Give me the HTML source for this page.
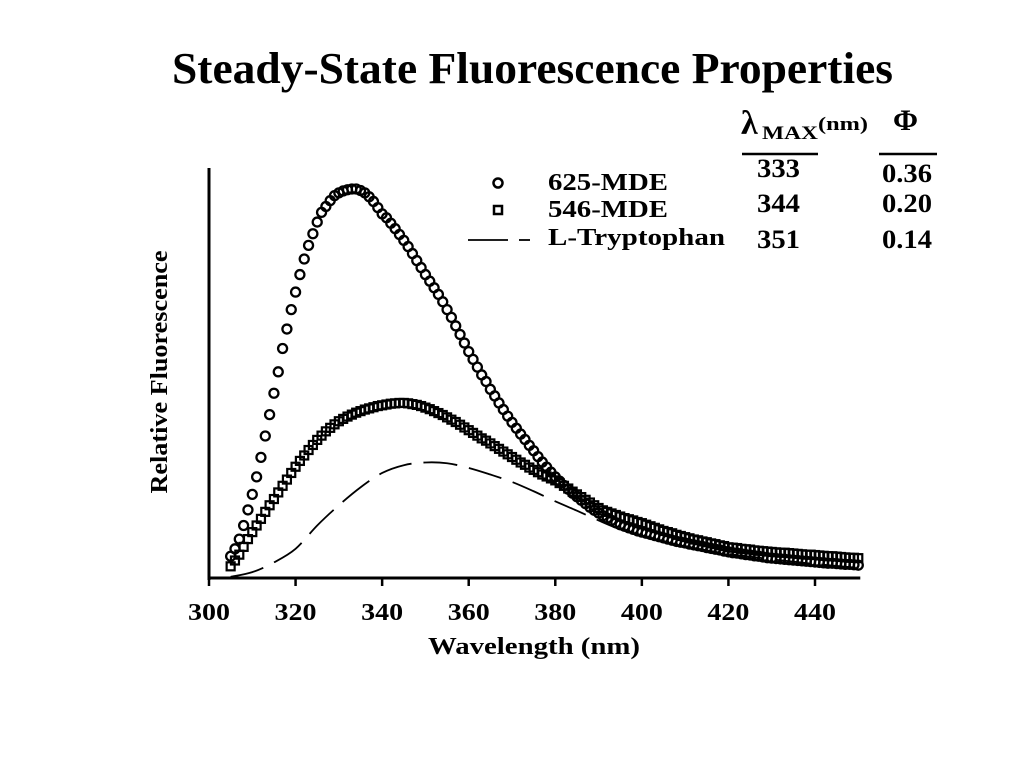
<!DOCTYPE html>
<html><head><meta charset="utf-8"><style>
html,body{margin:0;padding:0;background:#fff;}
svg text{font-family:"Liberation Serif",serif;font-weight:bold;fill:#000;}
</style></head><body>
<svg id="chart" width="1024" height="768" viewBox="0 0 1024 768" xmlns="http://www.w3.org/2000/svg">
<text x="172" y="83" font-size="44" textLength="721" lengthAdjust="spacingAndGlyphs">Steady-State Fluorescence Properties</text>
<text transform="translate(167,372) rotate(-90)" font-size="24" text-anchor="middle" textLength="243" lengthAdjust="spacingAndGlyphs">Relative Fluorescence</text>
<text x="428" y="654" font-size="24" textLength="212" lengthAdjust="spacingAndGlyphs">Wavelength (nm)</text>
<g id="axes"></g>
<g id="marks"></g>
<g>
<circle cx="498" cy="183" r="4.5" fill="none" stroke="#000" stroke-width="2.5"/>
<text x="548" y="190" font-size="24" textLength="120" lengthAdjust="spacingAndGlyphs">625-MDE</text>
<rect x="494" y="206" width="8" height="8" fill="none" stroke="#000" stroke-width="2.5"/>
<text x="548" y="217" font-size="24" textLength="120" lengthAdjust="spacingAndGlyphs">546-MDE</text>
<line x1="468" y1="240" x2="508" y2="240" stroke="#000" stroke-width="1.8"/>
<line x1="519" y1="240" x2="530" y2="240" stroke="#000" stroke-width="1.8"/>
<text x="548" y="245" font-size="24" textLength="177" lengthAdjust="spacingAndGlyphs">L-Tryptophan</text>
</g>
<g>
<text x="741" y="134" font-size="34">λ</text>
<text x="762" y="139" font-size="19" textLength="56" lengthAdjust="spacingAndGlyphs">MAX</text>
<text x="818" y="130" font-size="19" textLength="50" lengthAdjust="spacingAndGlyphs">(nm)</text>
<text x="893" y="130" font-size="30" textLength="25" lengthAdjust="spacingAndGlyphs">Φ</text>
<line x1="742" y1="154" x2="818" y2="154" stroke="#000" stroke-width="2.5"/>
<line x1="879" y1="154" x2="937" y2="154" stroke="#000" stroke-width="2.5"/>
<text x="757" y="177" font-size="26" textLength="43" lengthAdjust="spacingAndGlyphs">333</text>
<text x="757" y="212" font-size="26" textLength="43" lengthAdjust="spacingAndGlyphs">344</text>
<text x="757" y="248" font-size="26" textLength="43" lengthAdjust="spacingAndGlyphs">351</text>
<text x="882" y="182" font-size="26" textLength="50" lengthAdjust="spacingAndGlyphs">0.36</text>
<text x="882" y="212" font-size="26" textLength="50" lengthAdjust="spacingAndGlyphs">0.20</text>
<text x="882" y="248" font-size="26" textLength="50" lengthAdjust="spacingAndGlyphs">0.14</text>
</g>
</svg>
<script>
const xTicks = [300,320,340,360,380,400,420,440];
const circleStart = 305;
const circleValues = [5.6,7.5,10,13.5,17.5,21.5,26,31,36.5,42,47.5,53,59,64,69,73.5,78,82,85.5,88.5,91.5,94,95.5,97,98.3,99,99.5,99.8,100,100,99.6,99,98,96.8,95.2,93.6,92.6,91.2,89.8,88.3,86.8,85.2,83.4,81.6,79.8,78,76.3,74.6,72.9,71,69,67,64.8,62.6,60.4,58.2,56.2,54.2,52.2,50.5,48.5,46.8,45,43.3,41.6,40,38.5,37,35.6,34.1,32.7,31.2,29.8,28.5,27.2,26,24.9,23.8,22.8,21.8,20.9,20,19.1,18.2,17.4,16.7,16,15.4,14.8,14.2,13.7,13.3,12.9,12.5,12.1,11.8,11.5,11.2,10.9,10.6,10.3,10,9.7,9.4,9.2,9.0,8.7,8.5,8.3,8.1,7.8,7.6,7.4,7.2,6.9,6.7,6.5,6.4,6.2,6.0,5.9,5.7,5.6,5.4,5.2,5.1,5.0,4.9,4.8,4.7,4.6,4.5,4.4,4.3,4.2,4.1,4.0,3.9,3.8,3.8,3.7,3.6,3.5,3.5,3.4,3.3];
const squareStart = 305;
const squareValues = [3,4.5,6,8,10,11.8,13.5,15.2,17,18.7,20.3,22,23.7,25.3,27,28.6,30.1,31.5,32.9,34.2,35.5,36.6,37.7,38.6,39.5,40.3,40.9,41.5,42,42.5,42.9,43.3,43.6,43.9,44.2,44.4,44.6,44.8,44.9,45,45,44.9,44.7,44.5,44.2,43.8,43.4,42.9,42.4,41.9,41.3,40.7,40.1,39.4,38.7,38,37.3,36.6,35.9,35.3,34.6,33.9,33.2,32.5,31.8,31.1,30.4,29.7,29.1,28.4,27.8,27.2,26.6,26.1,25.6,25.1,24.4,23.7,23,22.2,21.5,20.8,20.1,19.4,18.7,18,17.4,17,16.6,16.2,15.8,15.4,15.1,14.8,14.4,14.1,13.7,13.3,12.9,12.5,12.1,11.8,11.5,11.1,10.8,10.5,10.2,9.9,9.7,9.4,9.2,8.9,8.7,8.4,8.2,7.9,7.8,7.7,7.5,7.4,7.3,7.1,7.0,6.9,6.8,6.7,6.6,6.5,6.5,6.4,6.3,6.2,6.1,6.0,6.0,5.9,5.8,5.7,5.6,5.6,5.5,5.4,5.3,5.2,5.2,5.1];
const tryWavelengths = [305,310,315,320,325,330,335,340,345,350,355,360,365,370,375,380,385,390,395,400,405,410,415,420,425,430,435,440,445,450];
const tryValues = [0.3,1.5,4,7.5,13.5,18.7,23.3,27,29,29.7,29.5,28.3,26.6,24.7,22.3,19.7,17.3,14.8,12.5,10.8,9.4,8.2,7.1,6.2,5.5,4.8,4.2,3.6,3.1,2.6];

const NS='http://www.w3.org/2000/svg';
const X0=209, X1=815, Y0=578, Y100=189;
function xs(nm){return X0+(nm-300)*(X1-X0)/140;}
function ys(v){return Y0-v*(Y0-Y100)/100;}
function mk(tag,attrs,parent){const e=document.createElementNS(NS,tag);for(const k in attrs)e.setAttribute(k,attrs[k]);parent.appendChild(e);return e;}
const axes=document.getElementById('axes'), marks=document.getElementById('marks');
let a=mk('line',{x1:X0,y1:168,x2:X0,y2:Y0+2,stroke:'#000','stroke-width':3},axes);


a=mk('line',{x1:X0-1.5,y1:Y0,x2:xs(450)+2,y2:Y0,stroke:'#000','stroke-width':3},axes);


xTicks.forEach(t=>{
  const l=mk('line',{x1:xs(t),y1:Y0,x2:xs(t),y2:Y0+8,stroke:'#000','stroke-width':2.5},axes);
  
  
  const tx=mk('text',{x:xs(t)-21,y:620,'font-size':24,textLength:42,lengthAdjust:'spacingAndGlyphs'},axes);
  tx.textContent=t;
  
  
});
const pts=tryWavelengths.map((w,i)=>[xs(w),ys(tryValues[i])]);
let d='M'+pts[0][0]+','+pts[0][1];
for(let i=0;i<pts.length-1;i++){
  const p0=pts[Math.max(0,i-1)],p1=pts[i],p2=pts[i+1],p3=pts[Math.min(pts.length-1,i+2)];
  d+=' C'+(p1[0]+(p2[0]-p0[0])/6)+','+(p1[1]+(p2[1]-p0[1])/6)+' '+(p2[0]-(p3[0]-p1[0])/6)+','+(p2[1]-(p3[1]-p1[1])/6)+' '+p2[0]+','+p2[1];
}
const tp=mk('path',{d:d,fill:'none',stroke:'#000','stroke-width':1.8,'stroke-dasharray':'34 12'},marks);


squareValues.forEach((v,i)=>{
  const r=mk('rect',{x:xs(squareStart+i)-4,y:ys(v)-4,width:8,height:8,fill:'none',stroke:'#000','stroke-width':2.2},marks);
  
  
});
circleValues.forEach((v,i)=>{
  const c=mk('circle',{cx:xs(circleStart+i),cy:ys(v),r:4.5,fill:'none',stroke:'#000','stroke-width':2.3},marks);
  
  
});
</script>
</body></html>
